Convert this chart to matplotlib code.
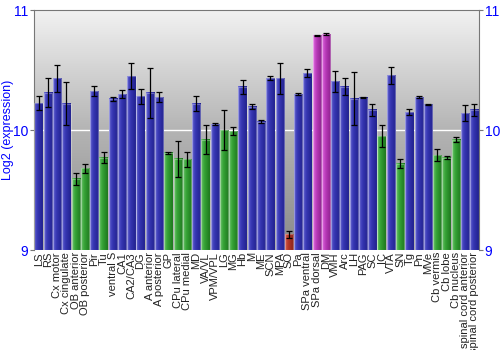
import numpy as np
import matplotlib
matplotlib.use("Agg")
import matplotlib.pyplot as plt
from matplotlib.colors import LinearSegmentedColormap

plt.rcParams['font.family'] = ['Liberation Sans', 'DejaVu Sans']

regions = ["LS", "RS", "Cx motor", "Cx cingulate", "OB anterior", "OB posterior",
           "Pir", "Tu", "ventral S", "CA1", "CA2/CA3", "DG", "A anterior",
           "A posterior", "GP", "CPu lateral", "CPu medial", "MD", "VA/VL",
           "VPM/VPL", "LG", "MG", "Hb", "M", "ME", "SCN", "MPA", "SO", "Pa",
           "SPa ventral", "SPa dorsal", "DM", "VMH", "Arc", "LH", "PAG", "SC",
           "IC", "VTA", "SN", "Tg", "Pn", "MVe", "Cb vermis", "Cb lobe",
           "Cb nucleus", "spinal cord anterior", "spinal cord posterior"]

values = [10.225, 10.31, 10.43, 10.22, 9.595, 9.68,
          10.325, 9.77, 10.26, 10.30, 10.45, 10.28, 10.31,
          10.275, 9.81, 9.76, 9.755, 10.22, 9.92,
          10.05, 10.0, 9.99, 10.36, 10.195, 10.07, 10.433, 10.43, 9.13, 10.30,
          10.475, 10.79, 10.80, 10.405, 10.36, 10.26, 10.27, 10.17,
          9.95, 10.455, 9.72, 10.147, 10.275, 10.214, 9.79, 9.77,
          9.92, 10.14, 10.167]

errors = [0.06, 0.12, 0.11, 0.18, 0.05, 0.035,
          0.045, 0.045, 0.015, 0.03, 0.11, 0.06, 0.21,
          0.04, 0.01, 0.15, 0.06, 0.065, 0.12,
          0.01, 0.17, 0.035, 0.06, 0.02, 0.01, 0.013, 0.13, 0.03, 0.01,
          0.035, 0.005, 0.005, 0.09, 0.07, 0.22, 0.005, 0.05,
          0.09, 0.07, 0.04, 0.025, 0.005, 0.005, 0.05, 0.01,
          0.02, 0.065, 0.047]

# b = blue, g = green, r = red, m = magenta
groups = "bbbbggbgbbbbbbgggbgbggbbbbbrbbmmbbbbbgbgbbbgggbb"

# (light edge, mid, dark edge) for the shaded bars
shades = {
    "b": ["#6a6ad0", "#3a3ab8", "#222290"],
    "g": ["#70c070", "#3aa83a", "#1e7a1e"],
    "r": ["#d06050", "#b83a2a", "#8a2218"],
    "m": ["#e070e0", "#c040c0", "#8e208e"],
}

fig = plt.figure(figsize=(5, 3.5), dpi=100)
ax = fig.add_axes([0.068, 0.2857, 0.89, 0.6857])

ymin, ymax = 9, 11
n = len(regions)
x = np.arange(n)
w = 0.9

# background gradient, light at top
bg = LinearSegmentedColormap.from_list("bg", ["#8a8a8a", "#b4b4b4", "#f2f2f2"])
ax.imshow(np.linspace(0, 1, 256).reshape(-1, 1), cmap=bg, aspect="auto",
          origin="lower", extent=(-0.5, n - 0.5, ymin, ymax), zorder=0)
ax.axhline(10, color="white", lw=1, zorder=1)

grad = np.array([0.0, 0.25, 0.45, 0.6, 0.7, 0.8, 0.9, 1.0]).reshape(1, -1)
for xi, v, g in zip(x, values, groups):
    cm = LinearSegmentedColormap.from_list("bar" + g, shades[g])
    ax.imshow(grad, cmap=cm, aspect="auto",
              extent=(xi - w / 2, xi + w / 2, ymin, v), zorder=2)
    ax.add_patch(plt.Rectangle((xi - w / 2, ymin), w, v - ymin, fill=False,
                               edgecolor=(1, 1, 1, 0.3), lw=0.8, zorder=3))

ax.errorbar(x, values, yerr=errors, fmt="none", ecolor="black",
            elinewidth=0.9, capsize=2, capthick=0.9, zorder=4)

ax.set_xlim(-0.5, n - 0.5)
ax.set_ylim(ymin, ymax)
ax.set_yticks([9, 10, 11])
ax.tick_params(axis="y", colors="#777777", labelcolor="blue", labelsize=10,
               length=3, pad=1, right=True, labelright=True)
ax.set_xticks(x)
ax.set_xticklabels(regions, rotation=90, fontsize=8, color="#222222")
ax.tick_params(axis="x", length=0, pad=1.5)
ax.set_ylabel("Log2 (expression)", color="blue", fontsize=9)
ax.yaxis.set_label_coords(-0.046, 0.5)
for s in ["left", "right", "top"]:
    ax.spines[s].set_color("#777777")
ax.spines["bottom"].set_visible(False)

fig.savefig("out.png", dpi=100)
